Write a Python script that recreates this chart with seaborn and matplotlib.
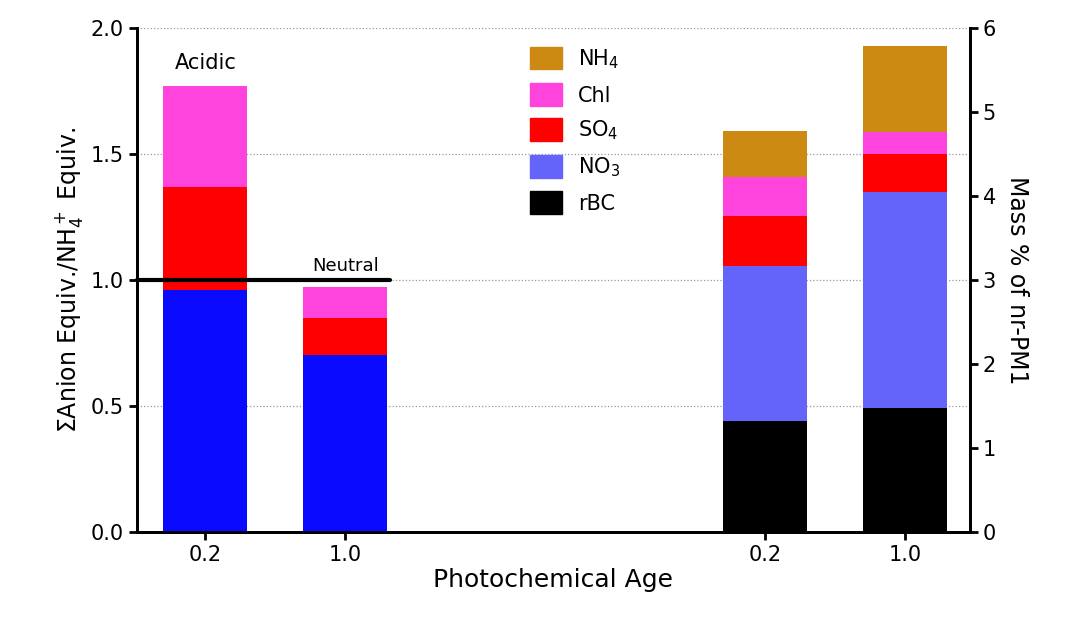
import numpy as np
import matplotlib
matplotlib.use("Agg")
import matplotlib.pyplot as plt
import seaborn as sns
from matplotlib.patches import Patch

# left axis: anion equivalents / NH4+ equivalents
ratio_pos = [0, 1]
ratio_labels = ["0.2", "1.0"]
ratio_no3 = [0.96, 0.70]
ratio_so4 = [0.41, 0.15]
ratio_chl = [0.40, 0.12]

# right axis: mass % of nr-PM1
mass_pos = [4, 5]
mass_labels = ["0.2", "1.0"]
mass_rbc = [1.32, 1.47]
mass_no3 = [1.85, 2.58]
mass_so4 = [0.59, 0.45]
mass_chl = [0.47, 0.26]
mass_nh4 = [0.54, 1.03]

c_blue = "#0a0aff"
c_no3 = "#6464fa"
c_so4 = "#ff0000"
c_chl = "#ff44dd"
c_nh4 = "#cc8a12"
c_rbc = "#000000"

sns.set_style("ticks")
plt.rcParams["font.family"] = ["DejaVu Sans"]
plt.rcParams.update({"text.color": "black", "axes.labelcolor": "black",
                     "xtick.color": "black", "ytick.color": "black",
                     "axes.edgecolor": "black"})

fig = plt.figure(figsize=(10.69, 6.22), dpi=100)
ax = fig.add_axes([0.128, 0.145, 0.779, 0.81])
ax2 = ax.twinx()
w = 0.6

# stacked ratio bars
bottom = np.zeros(2)
for vals, col in [(ratio_no3, c_blue), (ratio_so4, c_so4), (ratio_chl, c_chl)]:
    ax.bar(ratio_pos, vals, w, bottom=bottom, color=col, linewidth=0, zorder=3)
    bottom += np.array(vals)

# stacked mass bars
bottom = np.zeros(2)
for vals, col in [(mass_rbc, c_rbc), (mass_no3, c_no3), (mass_so4, c_so4),
                  (mass_chl, c_chl), (mass_nh4, c_nh4)]:
    ax2.bar(mass_pos, vals, w, bottom=bottom, color=col, linewidth=0, zorder=3)
    bottom += np.array(vals)

ax.set_xlim(-0.49, 5.46)
ax.set_ylim(0, 2.0)
ax2.set_ylim(0, 6)
ax.set_yticks([0, 0.5, 1.0, 1.5, 2.0])
ax.set_yticklabels(["0.0", "0.5", "1.0", "1.5", "2.0"])
ax2.set_yticks(range(7))
ax.set_xticks(ratio_pos + mass_pos)
ax.set_xticklabels(ratio_labels + mass_labels)
for y in [0.5, 1.0, 1.5, 2.0]:
    ax.axhline(y, color="#999999", ls=":", lw=0.9, zorder=1)

ax.plot([-0.49, 1.32], [1.0, 1.0], color="black", lw=3, zorder=5, clip_on=False)
ax.text(0, 1.82, "Acidic", ha="center", va="bottom", fontsize=15)
ax.text(1, 1.02, "Neutral", ha="center", va="bottom", fontsize=13)

for a in (ax, ax2):
    a.spines["top"].set_visible(False)
    for s in ("left", "right", "bottom"):
        a.spines[s].set_linewidth(2)
    a.tick_params(labelsize=15, width=2, length=6)

ax.set_ylabel(r"$\Sigma$Anion Equiv./NH$_4^+$ Equiv.", fontsize=17)
ax2.set_ylabel("Mass % of nr-PM1", fontsize=17, rotation=270, labelpad=24)
ax.set_xlabel("Photochemical Age", fontsize=18, labelpad=2)

handles = [Patch(color=c_nh4, label="NH$_4$"), Patch(color=c_chl, label="Chl"),
           Patch(color=c_so4, label="SO$_4$"), Patch(color=c_no3, label="NO$_3$"),
           Patch(color=c_rbc, label="rBC")]
ax2.legend(handles=handles, loc="upper left", bbox_to_anchor=(0.45, 1.0),
           frameon=False, fontsize=15, handlelength=1.5, handleheight=1.3,
           labelspacing=0.6)

fig.savefig("out.png", dpi=100)
